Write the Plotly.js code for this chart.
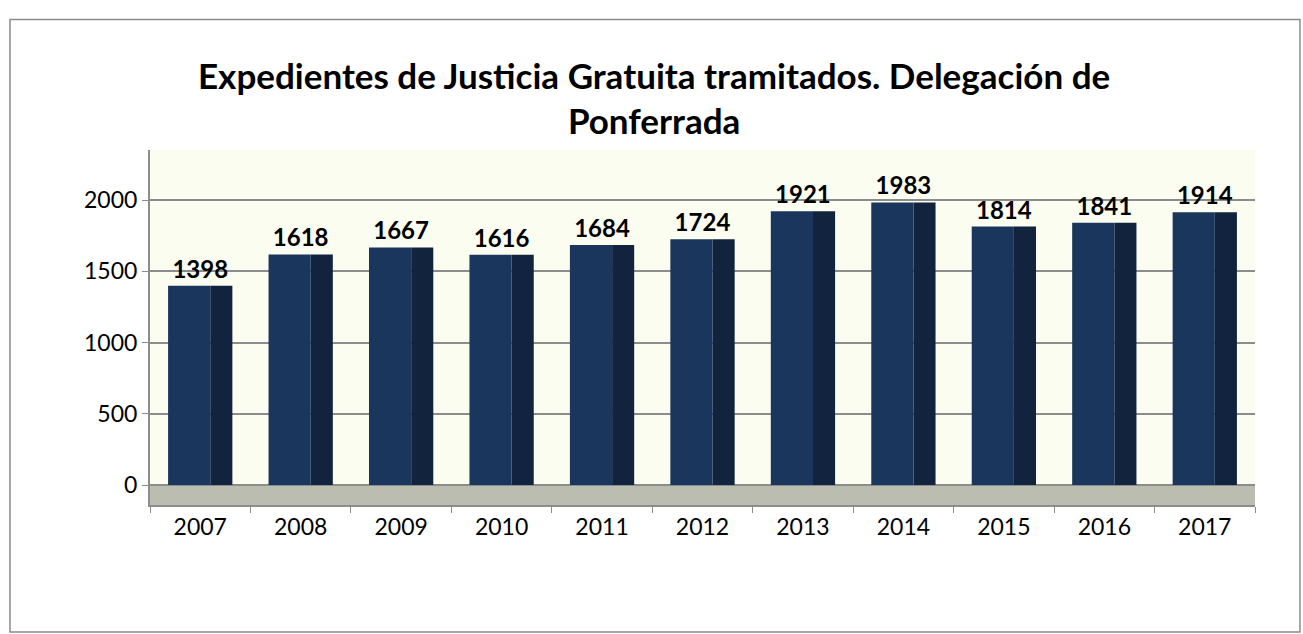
<!DOCTYPE html>
<html>
<head>
<meta charset="utf-8">
<script src="https://cdn.plot.ly/plotly-3.0.1.min.js"></script>
<style>html,body{margin:0;padding:0;background:#fff;}#chart{width:1303px;height:634px;}</style>
</head>
<body>
<div id="chart"></div>
<script>
const years = ['2007','2008','2009','2010','2011','2012','2013','2014','2015','2016','2017'];
const expedientes = [1398,1618,1667,1616,1684,1724,1921,1983,1814,1841,1914];
const yTicks = [0,500,1000,1500,2000];
const chartTitle = 'Expedientes de Justicia Gratuita tramitados. Delegación de<br>Ponferrada';

const FONT = 'Lato, "Open Sans", sans-serif';

const front = {
  type: 'bar', x: years, y: expedientes,
  width: 0.42, offset: -0.32,
  marker: {color: '#1b365d', line: {width: 0}},
  hoverinfo: 'skip', showlegend: false
};
const side = {
  type: 'bar', x: years, y: expedientes,
  width: 0.22, offset: 0.10,
  marker: {color: '#12233d', line: {width: 0}},
  hoverinfo: 'skip', showlegend: false
};
const labels = {
  type: 'bar', x: years, y: expedientes,
  width: 0.64, offset: -0.32,
  marker: {color: 'rgba(0,0,0,0)', line: {width: 0}},
  text: expedientes.map(String), textposition: 'outside',
  textfont: {family: FONT, size: 24, color: '#000', weight: 'bold'},
  cliponaxis: false,
  hoverinfo: 'skip', showlegend: false
};

const layout = {
  width: 1303, height: 634,
  paper_bgcolor: '#ffffff',
  plot_bgcolor: '#fbfdf0',
  barmode: 'overlay',
  margin: {l: 150, r: 48, t: 150, b: 129},
  title: {
    text: chartTitle,
    font: {family: FONT, size: 35, color: '#000', weight: 'bold'},
    x: 0.502, xanchor: 'center', xref: 'container',
    y: 0.86, yanchor: 'top', yref: 'container'
  },
  xaxis: {
    type: 'category',
    tickfont: {family: FONT, size: 23, color: '#000'},
    showgrid: false, zeroline: false,
    showline: true, linecolor: '#8c8c8c', linewidth: 2,
    ticks: 'outside', ticklen: 6, tickcolor: '#8c8c8c',
    tickson: 'boundaries'
  },
  yaxis: {
    range: [-140, 2351],
    tickvals: yTicks,
    tickfont: {family: FONT, size: 23, color: '#000'},
    showgrid: true, gridcolor: '#8c8c8c', gridwidth: 2,
    zeroline: false,
    showline: true, linecolor: '#8c8c8c', linewidth: 2,
    ticks: 'outside', ticklen: 6, tickcolor: '#8c8c8c'
  },
  shapes: [
    {type: 'rect', xref: 'paper', yref: 'y', x0: 0, x1: 1, y0: -140, y1: 0,
     fillcolor: '#bcbdb1', line: {width: 0}, layer: 'below'},
    {type: 'rect', xref: 'paper', yref: 'paper', x0: -0.1267, x1: 1.0407, y0: -0.3577, y1: 1.3676,
     fillcolor: 'rgba(0,0,0,0)', line: {color: '#8a8a8a', width: 1.5}}
  ]
};

Plotly.newPlot('chart', [labels, side, front], layout, {displayModeBar: false, staticPlot: true});
</script>
</body>
</html>
